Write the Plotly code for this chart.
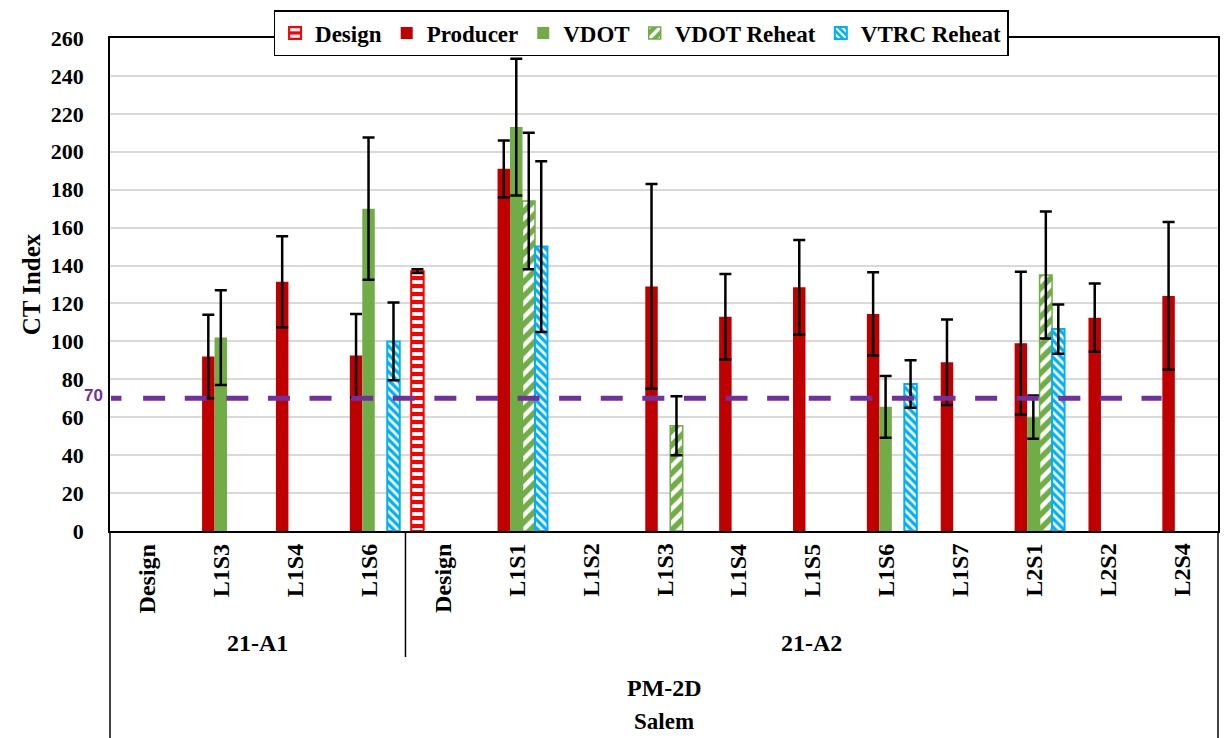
import plotly.graph_objects as go

# Sample labels along the category axis, with their parent groups
categories = ["Design", "L1S3", "L1S4", "L1S6",
              "Design", "L1S1", "L1S2", "L1S3", "L1S4", "L1S5", "L1S6", "L1S7", "L2S1", "L2S2", "L2S4"]
groups = ["21-A1"] * 4 + ["21-A2"] * 11
mix = "PM-2D"
plant = "Salem"

# CT Index means and error half-widths per series
design = [None, None, None, None, 137, None, None, None, None, None, None, None, None, None, None]
design_err = [None, None, None, None, 1, None, None, None, None, None, None, None, None, None, None]

producer = [None, 92, 131.5, 92.5, None, 191, None, 129, 113, 128.5, 114.5, 89, 99, 112.5, 124]
producer_err = [None, 22, 24, 22, None, 15, None, 54, 22.5, 25, 22, 22.5, 37.7, 18, 39]

vdot = [None, 102, None, 170, None, 213, None, None, None, None, 65.5, None, 60, None, None]
vdot_err = [None, 25, None, 37.5, None, 36, None, None, None, None, 16.3, None, 11.4, None, None]

vdot_reheat = [None, None, None, None, None, 174, None, 55.5, None, None, None, None, 135, None, None]
vdot_reheat_err = [None, None, None, None, None, 36, None, 15.5, None, None, None, None, 33.5, None, None]

vtrc_reheat = [None, None, None, 100, None, 150, None, None, None, None, 77.5, None, 106.5, None, None]
vtrc_reheat_err = [None, None, None, 20.5, None, 45, None, None, None, None, 12.5, None, 13, None, None]

threshold = 70
y_ticks = list(range(0, 261, 20))

SERIF = "Liberation Serif"
x_pos = list(range(len(categories)))


def err(vals):
    return dict(type="data", array=[v if v is not None else 0 for v in vals],
                visible=True, color="black", thickness=2.5, width=6)


fig = go.Figure()

fig.add_trace(go.Bar(
    name="Design", x=x_pos, y=design, error_y=err(design_err),
    marker=dict(color="#FF0000", line=dict(color="#FF0000", width=2),
                pattern=dict(shape="-", fgcolor="white", bgcolor="#FF0000",
                             fillmode="replace", size=8, solidity=0.5)),
))
fig.add_trace(go.Bar(
    name="Producer", x=x_pos, y=producer, error_y=err(producer_err),
    marker=dict(color="#C00000", line=dict(width=0)),
))
fig.add_trace(go.Bar(
    name="VDOT", x=x_pos, y=vdot, error_y=err(vdot_err),
    marker=dict(color="#70AD47", line=dict(width=0)),
))
fig.add_trace(go.Bar(
    name="VDOT Reheat", x=x_pos, y=vdot_reheat, error_y=err(vdot_reheat_err),
    marker=dict(color="#70AD47", line=dict(color="#70AD47", width=1.5),
                pattern=dict(shape="/", fgcolor="white", bgcolor="#70AD47",
                             fillmode="replace", size=10, solidity=0.45)),
))
fig.add_trace(go.Bar(
    name="VTRC Reheat", x=x_pos, y=vtrc_reheat, error_y=err(vtrc_reheat_err),
    marker=dict(color="#00B0F0", line=dict(color="#00B0F0", width=2),
                pattern=dict(shape="\\", fgcolor="white", bgcolor="#00B0F0",
                             fillmode="replace", size=6, solidity=0.45)),
))

# Px -> paper helpers (plot spans 110..1220 horizontally, 38..531 vertically)
PLOT_LEFT_PX = 110
PLOT_W_PX = 1110
PLOT_BOTTOM_PX = 531
PLOT_H_PX = 493


def paper_x(px):
    return (px - PLOT_LEFT_PX) / PLOT_W_PX


def paper_y(px):
    return (PLOT_BOTTOM_PX - px) / PLOT_H_PX


label_font = dict(family=SERIF, size=24, color="black", weight="bold")

annotations = []
for i, lab in enumerate(categories):
    annotations.append(dict(
        x=i, xref="x", y=paper_y(542), yref="paper", text=lab, textangle=-90,
        showarrow=False, xanchor="center", yanchor="top", font=label_font,
    ))

# Group labels centred under their spans
spans = {}
for i, g in enumerate(groups):
    spans.setdefault(g, []).append(i)
for g, idx in spans.items():
    annotations.append(dict(
        x=(idx[0] + idx[-1]) / 2, xref="x", y=paper_y(643), yref="paper", text=g,
        showarrow=False, xanchor="center", yanchor="middle", font=label_font,
    ))
annotations.append(dict(
    x=0.5, xref="paper", y=paper_y(688), yref="paper", text=mix, showarrow=False,
    yanchor="middle", font=label_font,
))
annotations.append(dict(
    x=0.5, xref="paper", y=paper_y(736), yref="paper", text=plant, showarrow=False,
    yanchor="bottom", font=dict(family=SERIF, size=23, color="black", weight="bold"),
))
annotations.append(dict(
    x=paper_x(93), xref="paper", y=threshold + 1.5, yref="y", text=str(threshold),
    showarrow=False, xanchor="center", yanchor="middle",
    font=dict(family="Liberation Sans", size=17, color="#7030A0", weight="bold"),
))

line_style = dict(color="#7030A0", width=5)
shapes = [
    # threshold line: short lead-in segment, then the dashed run
    dict(type="line", xref="paper", yref="y", x0=paper_x(111), x1=paper_x(121.5),
         y0=threshold, y1=threshold, line=line_style, layer="above"),
    dict(type="line", xref="paper", yref="y", x0=paper_x(143.2), x1=paper_x(1163.5),
         y0=threshold, y1=threshold, line=dict(**line_style, dash="22px,19.6px"), layer="above"),
    # outer tick lines running through the label rows
    dict(type="line", xref="paper", yref="paper", x0=0, x1=0, y0=0, y1=paper_y(740),
         line=dict(color="black", width=1.5)),
    dict(type="line", xref="paper", yref="paper", x0=1, x1=1, y0=0, y1=paper_y(740),
         line=dict(color="black", width=1.5)),
    # divider between 21-A1 and 21-A2
    dict(type="line", xref="x", yref="paper", x0=3.5, x1=3.5, y0=0, y1=paper_y(657),
         line=dict(color="black", width=1.5)),
]

fig.update_layout(
    width=1230, height=738,
    margin=dict(l=110, r=10, t=38, b=207),
    paper_bgcolor="white", plot_bgcolor="white",
    barmode="group", bargap=0.155, bargroupgap=0,
    font=dict(family=SERIF, color="black"),
    legend=dict(
        orientation="h", x=paper_x(642), xanchor="center", y=paper_y(10), yanchor="top",
        bgcolor="white", bordercolor="black", borderwidth=1.5,
        font=dict(family=SERIF, size=23, color="black", weight="bold"),
        itemwidth=30, tracegroupgap=0,
    ),
    xaxis=dict(
        range=[-0.5, len(categories) - 0.5], showticklabels=False, ticks="",
        showgrid=False, zeroline=False, showline=True, linecolor="black", linewidth=2,
        mirror=True, fixedrange=True,
    ),
    yaxis=dict(
        range=[0, 260], tickvals=y_ticks, ticks="", ticklabelstandoff=20,
        tickfont=dict(family=SERIF, size=22, color="black", weight="bold"),
        showgrid=True, gridcolor="#D9D9D9", gridwidth=2, zeroline=False,
        showline=True, linecolor="black", linewidth=1.5, mirror=True,
        title=dict(text="CT Index", standoff=3,
                   font=dict(family=SERIF, size=25, color="black", weight="bold")),
    ),
    annotations=annotations,
    shapes=shapes,
)

fig.write_html("out.html")
